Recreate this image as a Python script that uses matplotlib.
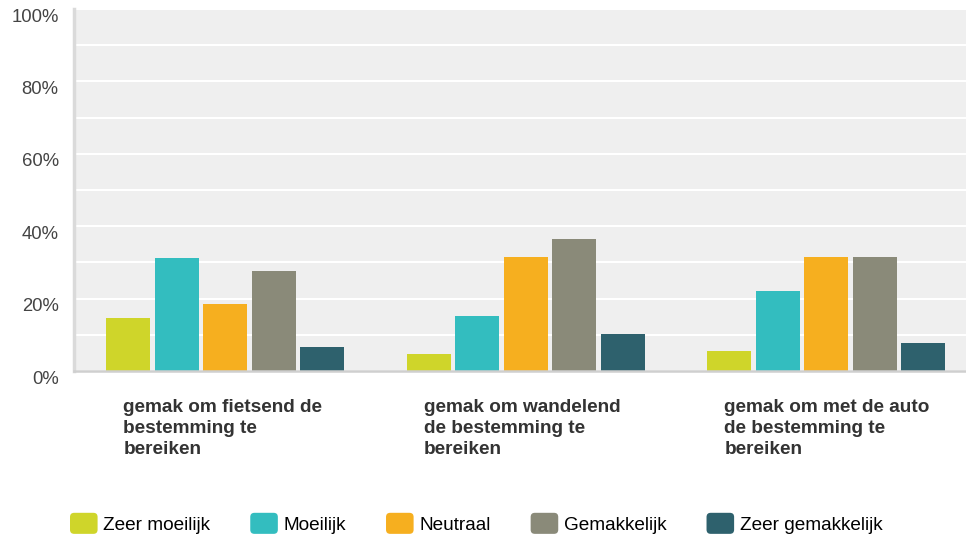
import matplotlib
matplotlib.use("Agg")
import matplotlib.pyplot as plt
import numpy as np
from matplotlib.patches import Patch, FancyBboxPatch
from matplotlib.legend_handler import HandlerPatch
from matplotlib.transforms import blended_transform_factory, ScaledTranslation

categories = [
    "gemak om fietsend de\nbestemming te\nbereiken",
    "gemak om wandelend\nde bestemming te\nbereiken",
    "gemak om met de auto\nde bestemming te\nbereiken",
]
series_names = ["Zeer moeilijk", "Moeilijk", "Neutraal", "Gemakkelijk", "Zeer gemakkelijk"]
zeer_moeilijk = [14.7, 4.8, 5.6]
moeilijk = [31.3, 15.3, 22.2]
neutraal = [18.6, 31.6, 31.6]
gemakkelijk = [27.7, 36.6, 31.6]
zeer_gemakkelijk = [6.7, 10.3, 7.8]
values = [zeer_moeilijk, moeilijk, neutraal, gemakkelijk, zeer_gemakkelijk]
colors = ["#CFD52A", "#33BDBF", "#F6AF1F", "#8A8A79", "#2E616D"]
ytick_values = [0, 20, 40, 60, 80, 100]
ytick_labels = ["0%", "20%", "40%", "60%", "80%", "100%"]

plt.rcParams['font.family'] = ['Liberation Sans', 'DejaVu Sans']

W, H = 966, 538
fig = plt.figure(figsize=(W / 100, H / 100), dpi=100)
left_px, right_px, top_px, bot_px = 74, 966, 9, 371
ax = fig.add_axes([left_px / W, 1 - bot_px / H, (right_px - left_px) / W, (bot_px - top_px) / H])
ax.set_facecolor("#EFEFEF")

x = np.arange(len(categories))
step = 0.1614
width = 0.1464
for i, (name, vals, c) in enumerate(zip(series_names, values, colors)):
    ax.bar(x + (i - 2) * step + 0.003, vals, width=width, color=c, label=name, zorder=3)

ax.set_ylim(0, 100)
ax.set_xlim(-0.5, (right_px - left_px) / 300.5 - 0.5)
ax.set_yticks(ytick_values)
ax.set_yticklabels(ytick_labels, fontsize=13.3, color="#444444")
ax.set_yticks(np.arange(10, 100, 10), minor=True)
ax.grid(True, axis='y', which='both', color='white', linewidth=1.5, zorder=1)
ax.tick_params(axis='y', which='both', length=0, pad=11)
offset = ScaledTranslation(0, -6 / 100, fig.dpi_scale_trans)
for lab in ax.get_yticklabels():
    lab.set_transform(lab.get_transform() + offset)
ax.set_xticks([])
for s in ['top', 'right']:
    ax.spines[s].set_visible(False)
ax.spines['left'].set_color("#DADADA")
ax.spines['left'].set_linewidth(2.5)
ax.spines['bottom'].set_color("#CFCFCF")
ax.spines['bottom'].set_linewidth(1.8)
ax.spines['bottom'].set_zorder(4)

trans = blended_transform_factory(ax.transData, ax.transAxes)
for xi, cat in zip(x, categories):
    ax.text(xi - 0.336, -0.078, cat, transform=trans, ha='left', va='top',
            fontsize=13.7, fontweight='bold', color="#333333", linespacing=1.3)


class RoundHandler(HandlerPatch):
    def create_artists(self, legend, orig_handle, xdescent, ydescent, width, height, fontsize, trans):
        p = FancyBboxPatch((-xdescent, -ydescent - 1), width, height + 2,
                           boxstyle="round,pad=0,rounding_size=3",
                           facecolor=orig_handle.get_facecolor(), edgecolor='none',
                           transform=trans)
        return [p]


handles = [Patch(facecolor=c, label=n) for c, n in zip(colors, series_names)]
fig.legend(handles=handles, loc='center left', bbox_to_anchor=(70 / W, 1 - 524 / H),
           ncol=5, frameon=False, fontsize=13.7, borderpad=0, borderaxespad=0,
           handlelength=1.45, handleheight=1.1, handletextpad=0.3, columnspacing=2.1,
           handler_map={Patch: RoundHandler()})

fig.savefig("out.png", dpi=100)
